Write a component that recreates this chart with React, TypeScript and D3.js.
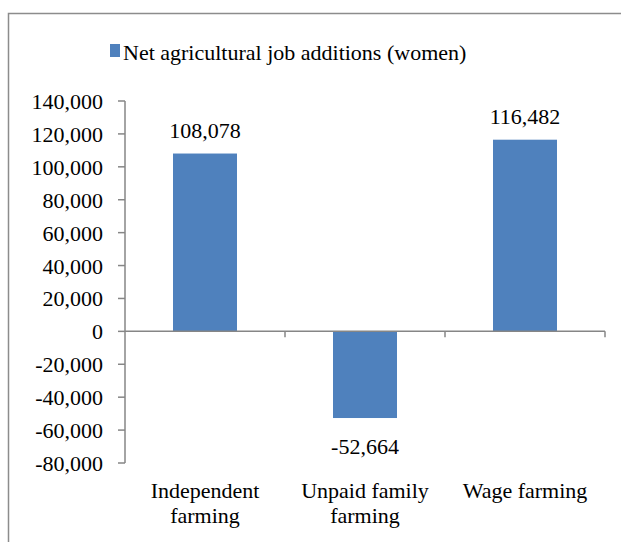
import React from "react";
import * as d3 from "d3";

const categories: string[][] = [["Independent", "farming"], ["Unpaid family", "farming"], ["Wage farming"]];
const values: number[] = [108078, -52664, 116482];
const yTicks: number[] = [140000, 120000, 100000, 80000, 60000, 40000, 20000, 0, -20000, -40000, -60000, -80000];
const seriesName = "Net agricultural job additions (women)";

const W = 621, H = 542;
const left = 125, right = 605;
const yTop = 101, yBottom = 463;
const FS = 22;
const COLOR = "#4F81BD";
const css = `html body #root svg.chart text.lbl, svg text { font-family: "Liberation Serif", "Times New Roman", Tinos, serif !important; }`;

export default function App() {
  const x = d3.scaleBand<number>().domain(d3.range(values.length)).range([left, right]).paddingInner(0.6).paddingOuter(0.3);
  const band = d3.scaleBand<number>().domain(d3.range(values.length)).range([left, right]);
  const y = d3.scaleLinear().domain([-80000, 140000]).range([yBottom, yTop]);
  const fmt = (v: number) => d3.format(",")(v).replace("\u2212", "-");
  const y0 = y(0);
  return (
    <div style={{ position: "absolute", left: 0, top: 0 }}>
      <style>{css}</style>
      <svg className="chart" width={W} height={H} fontFamily="Liberation Serif">
        <rect x={8.5} y={13.5} width={W + 20} height={H + 20} fill="#fff" stroke="#8c8c8c" strokeWidth={1.5} />
        <rect x={110} y={44} width={10} height={13} fill={COLOR} />
        <text className="lbl" x={123} y={60} fontSize={FS}>{seriesName}</text>
        <line x1={left} x2={left} y1={yTop} y2={yBottom} stroke="#868686" strokeWidth={1.5} />
        {yTicks.map((t) => (
          <g key={t}>
            <line x1={left - 7} x2={left} y1={y(t)} y2={y(t)} stroke="#868686" strokeWidth={1.5} />
            <text className="lbl" x={left - 22} y={y(t) + 8} textAnchor="end" fontSize={FS}>{fmt(t)}</text>
          </g>
        ))}
        {values.map((v, i) => (
          <rect key={i} x={x(i)} width={x.bandwidth()} y={Math.min(y(v), y0)} height={Math.abs(y(v) - y0)} fill={COLOR} />
        ))}
        <line x1={left} x2={right} y1={y0} y2={y0} stroke="#868686" strokeWidth={1.5} />
        {d3.range(values.length).map((i) => (
          <line key={i} x1={band(i)! + band.bandwidth()} x2={band(i)! + band.bandwidth()} y1={y0} y2={y0 + 6} stroke="#868686" strokeWidth={1.5} />
        ))}
        {values.map((v, i) => (
          <text className="lbl" key={i} x={x(i)! + x.bandwidth() / 2} y={v >= 0 ? y(v) - 16 : y(v) + 36} textAnchor="middle" fontSize={FS}>{fmt(v)}</text>
        ))}
        {categories.map((lines, i) =>
          lines.map((l, j) => (
            <text className="lbl" key={i + "-" + j} x={band(i)! + band.bandwidth() / 2} y={498 + j * 25} textAnchor="middle" fontSize={FS}>{l}</text>
          ))
        )}
      </svg>
    </div>
  );
}
